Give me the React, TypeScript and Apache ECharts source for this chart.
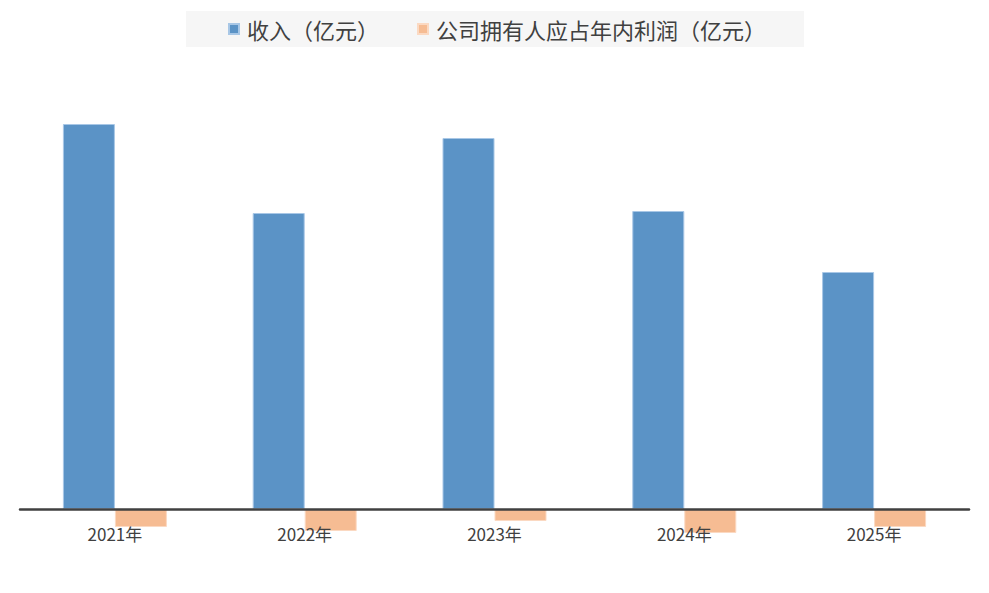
import React, { useEffect, useRef } from "react";
import * as echarts from "echarts";

const categories = ["2021年", "2022年", "2023年", "2024年", "2025年"];
const revenue = [38.5, 29.6, 37.1, 29.8, 23.7];
const profit = [-1.8, -2.2, -1.2, -2.4, -1.8];
const seriesNames = ["收入（亿元）", "公司拥有人应占年内利润（亿元）"];

export default function App() {
  const ref = useRef<HTMLDivElement>(null);
  useEffect(() => {
    if (!ref.current) return;
    const chart = echarts.init(ref.current, undefined, { renderer: "svg" });
    const font = "'Noto Sans CJK SC', 'Noto Sans', sans-serif";
    chart.setOption({
      animation: false,
      backgroundColor: "#ffffff",
      textStyle: { fontFamily: font },
      legend: {
        top: 11,
        left: 186,
        data: seriesNames,
        itemWidth: 10,
        itemHeight: 10,
        itemGap: 38,
        icon: "rect",
        backgroundColor: "#f6f6f6",
        padding: [7, 38, 7, 42],
        textStyle: { fontSize: 22, color: "#404040", fontFamily: font, padding: [0, 0, 0, 3] },
      },
      grid: { left: 20, right: 20, top: 109, bottom: 34, containLabel: false },
      xAxis: {
        type: "category",
        data: categories,
        z: 5,
        axisLine: { show: true, onZero: true, lineStyle: { color: "#404040", width: 2.5 } },
        axisTick: { show: false },
        axisLabel: { color: "#404040", fontSize: 17, margin: -34, fontFamily: font },
        splitLine: { show: false },
      },
      yAxis: {
        type: "value",
        min: -5,
        max: 40,
        show: false,
        splitLine: { show: false },
      },
      series: [
        {
          name: seriesNames[0],
          type: "bar",
          data: revenue,
          barWidth: 52,
          barGap: "0%",
          itemStyle: { color: "#5b93c6", borderColor: "#a8c7e6", borderWidth: 1 },
        },
        {
          name: seriesNames[1],
          type: "bar",
          data: profit,
          barWidth: 52,
          barGap: "0%",
          itemStyle: { color: "#f6bc93", borderColor: "#fbd9c2", borderWidth: 1 },
        },
      ],
    });
    return () => chart.dispose();
  }, []);
  return (
    <div
      ref={ref}
      style={{ position: "fixed", left: 0, top: 0, width: 989, height: 593 }}
    />
  );
}
